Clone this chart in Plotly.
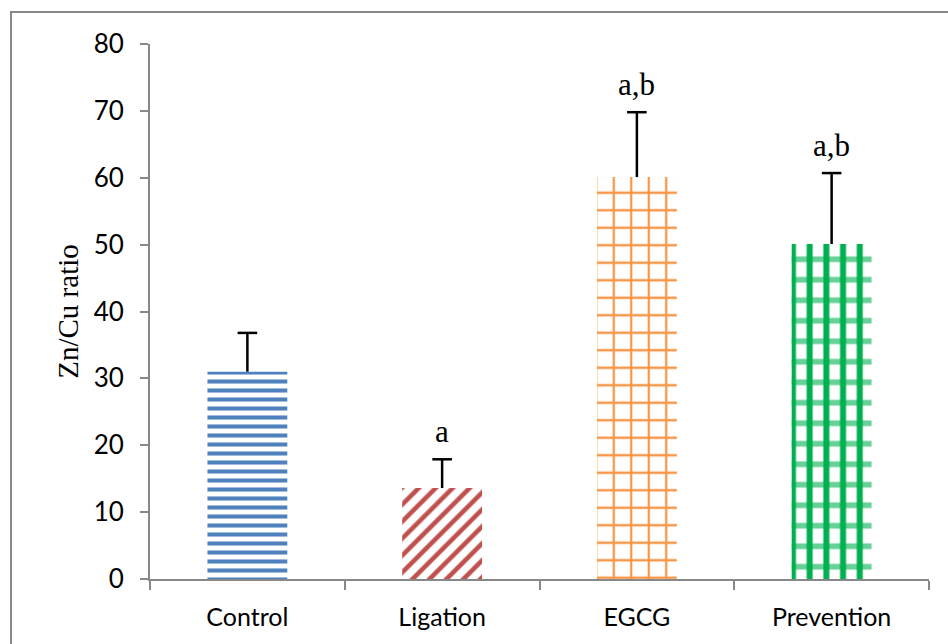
import plotly.graph_objects as go

# Zn/Cu ratio per group (mean and upper error)
groups = ["Control", "Ligation", "EGCG", "Prevention"]
ratio = [31.0, 13.6, 60.1, 50.1]
err_up = [5.8, 4.3, 9.7, 10.6]
sig_labels = ["", "a", "a,b", "a,b"]

# Per-group fill styling
fg_colors = ["#4F81BD", "#C0504D", "#F79646", "#00B050"]
shapes = ["-", "/", "+", "|"]
sizes = [9, 12, 17.5, 16.7]
solid = [0.45, 0.38, 0.24, 0.36]

AXIS_GREY = "#888888"
SANS = "Lato, Open Sans, sans-serif"
SERIF = "Liberation Serif, Times New Roman, serif"

fig = go.Figure()

fig.add_trace(go.Bar(
    x=groups, y=ratio,
    marker=dict(
        color="white",
        line=dict(width=0),
        pattern=dict(shape=shapes, fgcolor=fg_colors, bgcolor="white",
                     size=sizes, solidity=solid, fillmode="replace"),
    ),
    showlegend=False,
    hoverinfo="skip",
))

# Horizontal checkered bands layered over the Prevention bar
fig.add_trace(go.Bar(
    x=[groups[3]], y=[ratio[3]],
    marker=dict(
        color="rgba(0,0,0,0)",
        line=dict(width=0),
        pattern=dict(shape="-", fgcolor=fg_colors[3], bgcolor="rgba(0,0,0,0)",
                     size=20.5, solidity=0.28, fgopacity=0.6),
    ),
    showlegend=False,
    hoverinfo="skip",
))

# Upper error bars: stem from bar top, cap only at the top end
stem_x, stem_y = [], []
for g, v, e in zip(groups, ratio, err_up):
    stem_x += [g, g, None]
    stem_y += [v, v + e, None]
fig.add_trace(go.Scatter(
    x=stem_x, y=stem_y, mode="lines",
    line=dict(color="black", width=2.5),
    showlegend=False, hoverinfo="skip",
))
fig.add_trace(go.Scatter(
    x=groups, y=[v + e for v, e in zip(ratio, err_up)], mode="markers",
    marker=dict(symbol="line-ew", size=14, line=dict(color="black", width=2.5)),
    showlegend=False, hoverinfo="skip",
))

# Significance letters above the error bars
for g, v, e, t in zip(groups, ratio, err_up, sig_labels):
    if t:
        fig.add_annotation(
            x=g, y=v + e, text=t, showarrow=False,
            yanchor="bottom", yshift=8,
            font=dict(family=SERIF, size=31, color="black"),
        )

# Outer chart frame
fig.add_shape(
    type="rect", xref="paper", yref="paper",
    x0=-0.1784, x1=1.03, y0=-0.14, y1=1.0598,
    line=dict(color=AXIS_GREY, width=2), fillcolor="rgba(0,0,0,0)",
    layer="below",
)

fig.update_layout(
    width=948, height=644,
    margin=dict(l=150, r=19, t=44, b=65),
    paper_bgcolor="white", plot_bgcolor="white",
    barmode="overlay",
    bargap=0.59,
    xaxis=dict(
        showline=True, linecolor=AXIS_GREY, linewidth=2,
        ticks="outside", tickson="boundaries", ticklen=9,
        tickcolor=AXIS_GREY, tickwidth=2,
        tickfont=dict(family=SANS, size=25, color="black"),
        ticklabelstandoff=15,
        showgrid=False, zeroline=False,
    ),
    yaxis=dict(
        range=[0, 80], dtick=10,
        showline=True, linecolor=AXIS_GREY, linewidth=2,
        ticks="outside", ticklen=8, tickcolor=AXIS_GREY, tickwidth=2,
        tickfont=dict(family=SANS, size=26, color="black"),
        ticklabelstandoff=11,
        showgrid=False, zeroline=False,
        title=dict(text="Zn/Cu ratio", standoff=6,
                   font=dict(family=SERIF, size=29, color="black")),
    ),
)

fig.write_html("out.html")
